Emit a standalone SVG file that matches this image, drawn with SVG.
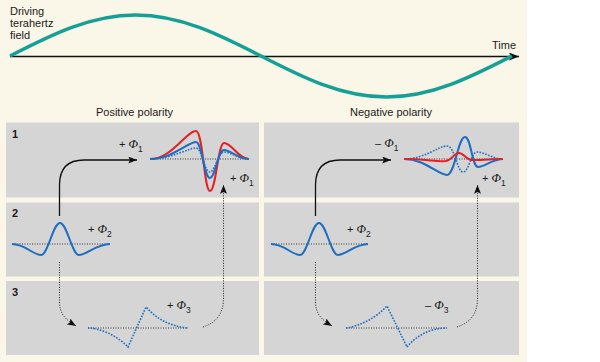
<svg xmlns="http://www.w3.org/2000/svg" width="600" height="362" viewBox="0 0 600 362">
<defs>
<style>
text{font-family:"Liberation Sans",Arial,sans-serif;font-size:11px;fill:#1a1a1a}
.num{font-weight:bold}
.phi{font-family:"Liberation Serif","Times New Roman",serif;font-style:italic;font-size:12.5px}
.sub{font-size:8.5px}
.panel{fill:#d5d5d5}
.base{fill:none;stroke:#222;stroke-width:0.9;stroke-dasharray:1 1.5}
.solid{fill:none;stroke:#1b6ec2;stroke-width:2}
.dot{fill:none;stroke:#1b6ec2;stroke-width:1.6;stroke-dasharray:1.6 1.4}
.red{fill:none;stroke:#e41f26;stroke-width:2}
.conn{fill:none;stroke:#111;stroke-width:1.3}
.dconn{fill:none;stroke:#222;stroke-width:1;stroke-dasharray:1 1.5}
</style>
<marker id="ah" viewBox="0 0 10 8" refX="10" refY="4" markerWidth="9" markerHeight="7" markerUnits="userSpaceOnUse" orient="auto"><path d="M0,0 L10,4 L0,8 L2,4 z" fill="#111"/></marker>
<marker id="ahx" viewBox="0 0 10 8" refX="10" refY="4" markerWidth="11" markerHeight="8" markerUnits="userSpaceOnUse" orient="auto"><path d="M0,0 L10,4 L0,8 L2,4 z" fill="#111"/></marker>
</defs>
<rect x="0" y="0" width="527" height="362" fill="#faf6e8"/>

<g id="field">
<text x="10" y="15">Driving</text>
<text x="10" y="27">terahertz</text>
<text x="10" y="39">field</text>
<text x="492" y="49">Time</text>
<line x1="10" y1="56.5" x2="519" y2="56.5" stroke="#111" stroke-width="1.5" marker-end="url(#ahx)"/>
<path d="M10,56 C50.9,35 90.1,15 135.5,15 C180.9,15 220.1,35 261,56 C301.9,77 341.1,97 386.5,97 C431.9,97 471.1,77 512,56" fill="none" stroke="#15a096" stroke-width="3.5"/>
</g>

<text x="134.5" y="116" text-anchor="middle">Positive polarity</text>
<text x="391" y="116" text-anchor="middle">Negative polarity</text>

<g id="pos1">
<rect class="panel" x="6" y="122.5" width="253" height="75"/>
<text class="num" x="12" y="137.5">1</text>
<line class="base" x1="150" y1="159" x2="249" y2="159"/>
<path class="red" d="M150,159 C172,159 186,131 196,131 C203,131 204,191 210,191 C216,191 218,143 224,143 C232,143 238,159 249,159"/>
<path class="solid" d="M150,159 C172,159 188,142 196,142 C202,142 204,178 210,178 C215,178 218,150 224,150 C231,150 238,159 249,159"/>
<path class="dot" d="M150,159 C172,159 188,148 196,148 C202,148 204,172 210,172 C215,172 218,152 224,152 C231,152 238,159 249,159"/>
<text x="119" y="148">+ <tspan class="phi">Φ</tspan><tspan class="sub" dy="4">1</tspan></text>
<text x="230" y="182">+ <tspan class="phi">Φ</tspan><tspan class="sub" dy="4">1</tspan></text>
</g>

<g id="pos2">
<rect class="panel" x="6" y="202.5" width="253" height="74"/>
<text class="num" x="12" y="216.5">2</text>
<line class="base" x1="12" y1="244" x2="110" y2="244"/>
<path class="solid" d="M12,244 C25,244 33,255 41,255 C48,255 53,223 60,223 C67,223 72,255 79,255 C87,255 96,244 110,244"/>
<text x="88" y="233">+ <tspan class="phi">Φ</tspan><tspan class="sub" dy="4">2</tspan></text>
</g>

<g id="pos3">
<rect class="panel" x="6" y="281" width="253" height="74"/>
<text class="num" x="12" y="295.5">3</text>
<line class="base" x1="88" y1="328" x2="188" y2="328" stroke="#444"/>
<path class="dot" d="M88,328 C100,328 118,336 128,347 L146,307 C156,318 168,326 188,328"/>
<text x="167" y="309">+ <tspan class="phi">Φ</tspan><tspan class="sub" dy="4">3</tspan></text>
</g>

<g id="neg1">
<rect class="panel" x="264" y="122.5" width="255" height="75"/>
<line class="base" x1="404" y1="159" x2="503" y2="159"/>
<path class="solid" d="M404,159 C425,159 438,175 447,175 C455,175 458,137 465,137 C471,137 472,167 478,167 C485,167 492,159 503,159"/>
<path class="dot" d="M404,159 C425,159 438,146 447,146 C455,146 457,172 463,172 C469,172 471,152 477,152 C485,152 492,159 503,159"/>
<path class="red" d="M404,159 C425,159 438,162 446,161 C452,160 454,153 459,153 C464,153 466,160 472,160 C485,160 492,159 503,159"/>
<text x="375" y="147">– <tspan class="phi">Φ</tspan><tspan class="sub" dy="4">1</tspan></text>
<text x="482" y="182">+ <tspan class="phi">Φ</tspan><tspan class="sub" dy="4">1</tspan></text>
</g>

<g id="neg2">
<rect class="panel" x="264" y="202.5" width="255" height="74"/>
<line class="base" x1="271" y1="244" x2="368" y2="244"/>
<path class="solid" d="M271,244 C284,244 292,255 300,255 C307,255 312,223 319,223 C326,223 331,255 338,255 C346,255 355,244 368,244"/>
<text x="347" y="233">+ <tspan class="phi">Φ</tspan><tspan class="sub" dy="4">2</tspan></text>
</g>

<g id="neg3">
<rect class="panel" x="264" y="281" width="255" height="74"/>
<line class="base" x1="346" y1="328" x2="447" y2="328" stroke="#444"/>
<path class="dot" d="M346,328 C360,326 376,318 387,306 L407,347 C416,336 430,328 447,328"/>
<text x="425" y="309">– <tspan class="phi">Φ</tspan><tspan class="sub" dy="4">3</tspan></text>
</g>

<g id="connectors">
<path class="conn" d="M59.5,216 L59.5,185 Q59.5,160 84,160 L137,160" marker-end="url(#ah)"/>
<path class="dconn" d="M59.5,262 L59.5,302 C59.5,314 66,320 76,326" marker-end="url(#ah)"/>
<path class="dconn" d="M203,327 C218,322 223.5,312 223.5,298 L223.5,185" marker-end="url(#ah)"/>
<path class="conn" d="M315.5,216 L315.5,185 Q315.5,160 340,160 L391,160" marker-end="url(#ah)"/>
<path class="dconn" d="M315.5,262 L315.5,302 C315.5,314 322,320 332,326" marker-end="url(#ah)"/>
<path class="dconn" d="M457,327 C472,322 477.5,312 477.5,298 L477.5,185" marker-end="url(#ah)"/>
</g>
</svg>
